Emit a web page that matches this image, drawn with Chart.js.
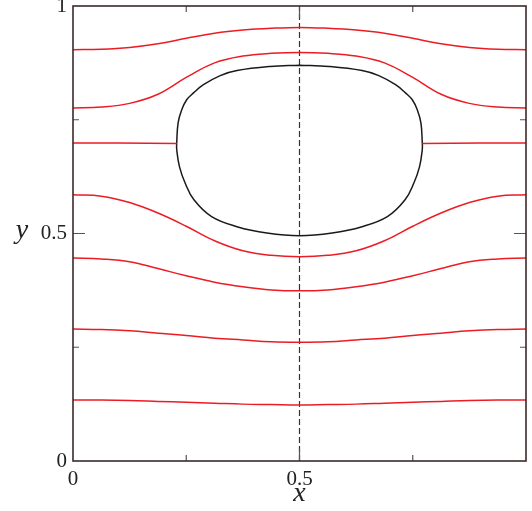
<!DOCTYPE html>
<html>
<head>
<meta charset="utf-8">
<script src="https://cdn.jsdelivr.net/npm/chart.js@4/dist/chart.umd.min.js"></script>
<style>
  html, body { margin: 0; padding: 0; background: #fff; }
  #wrap { width: 532px; height: 511px; }
</style>
</head>
<body>
<div id="wrap"><canvas id="flow"></canvas></div>
<script>
// x positions shared by the streamlines
const xGrid = [0, 0.0625, 0.125, 0.1875, 0.25, 0.3125, 0.375, 0.4375, 0.5,
               0.5625, 0.625, 0.6875, 0.75, 0.8125, 0.875, 0.9375, 1];

// streamline heights, top to bottom (line 3 is split by the bubble)
const line1 = [0.904, 0.905, 0.909, 0.917, 0.929, 0.940, 0.947, 0.951, 0.953,
               0.951, 0.947, 0.940, 0.929, 0.917, 0.909, 0.905, 0.904];
const line2 = [0.776, 0.778, 0.786, 0.806, 0.843, 0.875, 0.890, 0.896, 0.898,
               0.896, 0.890, 0.875, 0.843, 0.806, 0.786, 0.778, 0.776];
const line4 = [0.585, 0.582, 0.568, 0.545, 0.516, 0.484, 0.462, 0.452, 0.449,
               0.452, 0.462, 0.484, 0.516, 0.545, 0.568, 0.582, 0.585];
const line5 = [0.446, 0.444, 0.438, 0.423, 0.407, 0.393, 0.383, 0.376, 0.374,
               0.376, 0.383, 0.393, 0.407, 0.423, 0.438, 0.444, 0.446];
const line6 = [0.290, 0.289, 0.286, 0.281, 0.276, 0.270, 0.266, 0.262, 0.261,
               0.262, 0.266, 0.270, 0.276, 0.281, 0.286, 0.289, 0.290];
const line7 = [0.134, 0.134, 0.133, 0.131, 0.129, 0.127, 0.125, 0.124, 0.123,
               0.124, 0.125, 0.127, 0.129, 0.131, 0.133, 0.134, 0.134];

const line3LeftX = [0, 0.1, 0.229];
const line3LeftY = [0.699, 0.699, 0.698];
const line3RightX = [0.771, 0.9, 1];
const line3RightY = [0.698, 0.699, 0.699];

// bubble outline, clockwise from the top
const ovalX = [0.5, 0.565, 0.638, 0.675, 0.712, 0.734, 0.749, 0.760, 0.768, 0.771, 0.771,
               0.765, 0.7525, 0.733, 0.694, 0.638, 0.572, 0.5, 0.428, 0.362, 0.306, 0.267,
               0.2475, 0.235, 0.229, 0.229, 0.232, 0.240, 0.251, 0.266, 0.288, 0.325,
               0.362, 0.435, 0.5];
const ovalY = [0.870, 0.867, 0.858, 0.847, 0.827, 0.809, 0.794, 0.772, 0.743, 0.700, 0.684,
               0.647, 0.611, 0.574, 0.537, 0.515, 0.501, 0.495, 0.501, 0.515, 0.537, 0.574,
               0.611, 0.647, 0.684, 0.700, 0.743, 0.772, 0.794, 0.809, 0.827, 0.847,
               0.858, 0.867, 0.870];

// symmetry axis
const axisX = [0.5, 0.5];
const axisY = [0, 1];

const xLabels = { 0: '0', 0.5: '0.5' };
const yLabels = { 0: '0', 0.5: '0.5', 1: '1' };
const minorTicks = [0.25, 0.75];
const majorTicks = [0.5];

const RED = '#ec1c24';
const SERIF = '"Liberation Serif", "Times New Roman", serif';
const pts = (xs, ys) => xs.map((x, i) => ({ x, y: ys[i] }));

function redLine(xs, ys) {
    return {
        data: pts(xs, ys), borderColor: RED, borderWidth: 1.5,
        pointRadius: 0, tension: 0.4, fill: false
    };
}

const frame = {
    id: 'frame',
    afterDraw(chart) {
        const { ctx, chartArea: a, scales: { x, y } } = chart;
        ctx.save();
        // inward ticks on all four sides
        ctx.strokeStyle = '#555';
        ctx.lineWidth = 1.2;
        const tick = (v, len) => {
            const px = x.getPixelForValue(v), py = y.getPixelForValue(v);
            ctx.beginPath();
            ctx.moveTo(px, a.bottom); ctx.lineTo(px, a.bottom - len);
            ctx.moveTo(px, a.top); ctx.lineTo(px, a.top + len);
            ctx.moveTo(a.left, py); ctx.lineTo(a.left + len, py);
            ctx.moveTo(a.right, py); ctx.lineTo(a.right - len, py);
            ctx.stroke();
        };
        minorTicks.forEach(v => tick(v, 6));
        majorTicks.forEach(v => tick(v, 12));
        // box
        ctx.strokeStyle = '#3b2a2a';
        ctx.lineWidth = 1.6;
        ctx.strokeRect(a.left, a.top, a.right - a.left, a.bottom - a.top);
        // axis titles
        ctx.fillStyle = '#222';
        ctx.font = 'italic 28px ' + SERIF;
        ctx.textAlign = 'center';
        ctx.textBaseline = 'middle';
        ctx.fillText('x', x.getPixelForValue(0.5), 494);
        ctx.fillText('y', 22, y.getPixelForValue(0.5) - 3);
        ctx.restore();
    }
};

new Chart(document.getElementById('flow'), {
    type: 'line',
    data: {
        datasets: [
            redLine(xGrid, line1),
            redLine(xGrid, line2),
            redLine(line3LeftX, line3LeftY),
            redLine(line3RightX, line3RightY),
            redLine(xGrid, line4),
            redLine(xGrid, line5),
            redLine(xGrid, line6),
            redLine(xGrid, line7),
            {
                data: pts(ovalX, ovalY), borderColor: '#1a1a1a', borderWidth: 1.5,
                pointRadius: 0, tension: 0.4, fill: false
            },
            {
                data: pts(axisX, axisY), borderColor: '#333', borderWidth: 1.2,
                borderDash: [6, 3], pointRadius: 0, fill: false
            }
        ]
    },
    options: {
        responsive: true, maintainAspectRatio: false, animation: false,
        layout: { padding: { top: 6, right: 6, left: 0, bottom: 0 } },
        plugins: { legend: { display: false }, tooltip: { enabled: false } },
        scales: {
            x: {
                type: 'linear', min: 0, max: 1,
                grid: { display: false, drawTicks: false },
                border: { display: false },
                ticks: {
                    stepSize: 0.25, padding: 6, maxRotation: 0, autoSkip: false,
                    color: '#222', font: { family: SERIF, size: 21 },
                    callback: v => xLabels[v] ?? ''
                },
                afterFit: s => { s.height = 50; s.paddingLeft = 0; s.paddingRight = 0; }
            },
            y: {
                type: 'linear', min: 0, max: 1,
                grid: { display: false, drawTicks: false },
                border: { display: false },
                ticks: {
                    stepSize: 0.25, padding: 6, autoSkip: false,
                    color: '#222', font: { family: SERIF, size: 21 },
                    callback: v => yLabels[v] ?? ''
                },
                afterFit: s => { s.width = 73; s.paddingTop = 0; s.paddingBottom = 0; }
            }
        }
    },
    plugins: [frame]
});
</script>
</body>
</html>
